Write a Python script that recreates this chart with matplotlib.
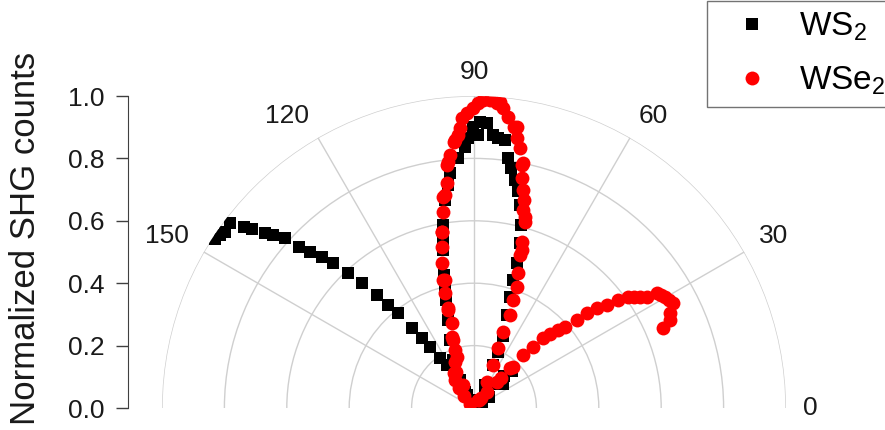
import numpy as np
import matplotlib
matplotlib.use("Agg")
import matplotlib.pyplot as plt
from matplotlib.lines import Line2D

plt.rcParams['font.family'] = ['Liberation Sans', 'DejaVu Sans']
plt.rcParams['mathtext.default'] = 'regular'

# polarization angle (deg) and normalized SHG intensity
ws2_theta = [10, 20, 30, 36, 40, 44, 47, 50, 55, 60,
             64.4, 66.2, 66.8, 68.3, 70.5, 72, 73, 73.5, 74.4, 75.6,
             77.2, 78.5, 79.8, 81.2, 82.3, 83.4, 85, 86, 87.4, 88.8,
             89.2, 90.3, 91.3, 92, 93.7, 95.8, 96.6, 97.9, 99.6, 100.4,
             101.1, 102.7, 103.6, 104.5, 106.5, 109.4, 113.6, 116.6, 118, 119.5,
             121, 122.4, 124.4, 125.7, 126.9, 128, 128.6, 129.8, 130.7, 132,
             133, 134.2, 135.2, 136.4, 137.4, 138.1, 139.2, 140.1, 141.1, 141.8,
             142.9, 144.7, 145.7, 146.8]
ws2_counts = [0.01, 0.02, 0.03, 0.06, 0.12, 0.17, 0.14, 0.10, 0.06, 0.03,
              0.08, 0.15, 0.195, 0.25, 0.316, 0.374, 0.43, 0.485, 0.55, 0.605,
              0.667, 0.71, 0.743, 0.778, 0.81, 0.865, 0.87, 0.877, 0.914, 0.917,
              0.875, 0.90, 0.866, 0.837, 0.803, 0.757, 0.72, 0.673, 0.595, 0.555,
              0.516, 0.437, 0.40, 0.358, 0.294, 0.231, 0.168, 0.10, 0.047, 0.06,
              0.11, 0.163, 0.193, 0.242, 0.279, 0.324, 0.389, 0.43, 0.478, 0.538,
              0.59, 0.647, 0.688, 0.726, 0.764, 0.814, 0.849, 0.873, 0.916, 0.94,
              0.981, 0.978, 0.985, 0.992]

wse2_theta = [22.8, 24.2, 25.8, 27.7, 29, 30.2, 31.2, 32.1, 32.8, 33.8,
              34.8, 35.8, 36.8, 37.8, 39.1, 40, 40.6, 41.8, 42.8, 44,
              45.2, 45.9, 47.1, 46.4, 47.8, 48.5, 49.2, 52.1, 57, 61,
              63, 64.2, 65.8, 67.9, 69, 68.8, 70, 70.6, 71.8, 73.2,
              73.3, 74, 74.7, 75.1, 76, 76.5, 77.3, 78.3, 78.6, 78.9,
              80, 81, 81.4, 82, 83.3, 84.4, 85.1, 85.7, 87, 88.3,
              89.2, 90.1, 91.4, 92.4, 92.8, 93.3, 94.1, 94.4, 95.4, 96,
              96.4, 96.9, 97.8, 98.3, 98.9, 100.3, 100.4, 101.3, 102.6, 102.8,
              103.5, 104.2, 104.5, 104.7, 104.8, 106.9, 107.4, 108.1, 108.6, 112,
              115, 116, 120, 124, 128, 132, 136]
wse2_counts = [0.658, 0.689, 0.698, 0.722, 0.715, 0.709, 0.70, 0.691, 0.658, 0.64,
               0.625, 0.61, 0.578, 0.538, 0.507, 0.472, 0.434, 0.391, 0.368, 0.34,
               0.315, 0.273, 0.232, 0.183, 0.172, 0.13, 0.111, 0.066, 0.04, 0.03,
               0.029, 0.094, 0.151, 0.207, 0.262, 0.32, 0.368, 0.412, 0.454, 0.529,
               0.512, 0.554, 0.619, 0.635, 0.654, 0.685, 0.716, 0.752, 0.80, 0.794,
               0.845, 0.875, 0.912, 0.91, 0.94, 0.965, 0.985, 0.979, 0.988, 0.988,
               0.977, 0.961, 0.945, 0.929, 0.90, 0.876, 0.861, 0.856, 0.815, 0.794,
               0.784, 0.725, 0.689, 0.684, 0.637, 0.572, 0.574, 0.527, 0.475, 0.421,
               0.422, 0.379, 0.33, 0.325, 0.281, 0.228, 0.239, 0.196, 0.173, 0.16,
               0.081, 0.13, 0.13, 0.11, 0.08, 0.05, 0.02]

angle_ticks = [0, 30, 60, 90, 120, 150]
r_ticks = [0.0, 0.2, 0.4, 0.6, 0.8, 1.0]

W, H = 885, 430
fig = plt.figure(figsize=(W / 100, H / 100), dpi=100)

# half polar plot, centre at (474, 408) px, radius 312 px;
# the square box is centred on the middle of the half disc
R = 312
cx, cy = 474, H - 408
ax = fig.add_axes([(cx - R) / W, (cy + R / 2 - R) / H, 2 * R / W, 2 * R / H],
                  projection='polar')
ax.set_thetamin(0)
ax.set_thetamax(180)
ax.set_rlim(0, 1)
ax.set_rticks(r_ticks[1:])
ax.set_yticklabels([])
ax.set_xticks(np.deg2rad(angle_ticks))
ax.set_xticklabels([])
ax.grid(True, color='#cfcfcf', lw=1)
ax.xaxis.get_major_ticks()[0].gridline.set_visible(False)
for sp in ax.spines.values():
    sp.set_color('none')
    sp.set_linewidth(0)
ax.tick_params(axis='x', direction='in', length=8, color='#c8c8c8')
ax.tick_params(axis='y', length=0)

# angle labels just outside the outer circle, anchored by their near edge
for a in angle_ticks:
    c, s = np.cos(np.deg2rad(a)), np.sin(np.deg2rad(a))
    ha = 'left' if c > 0.2 else ('right' if c < -0.2 else 'center')
    va = 'baseline' if s > 0.2 else 'center'
    ax.text(np.deg2rad(a), 1.055, str(a), ha=ha, va=va, fontsize=19,
            color='#1a1a1a', clip_on=False)

ax.plot(np.deg2rad(ws2_theta), ws2_counts, 's', color='black', ms=9,
        mew=0, zorder=3)
ax.plot(np.deg2rad(wse2_theta), wse2_counts, 'o', color='red', ms=10,
        mew=0, zorder=4)

# separate vertical scale on the left
ax2 = fig.add_axes([128 / W, cy / H, 1 / W, R / H])
ax2.set_ylim(0, 1)
ax2.set_yticks(r_ticks)
ax2.set_yticklabels(['%.1f' % v for v in r_ticks])
ax2.set_xticks([])
for s in ['top', 'right', 'bottom']:
    ax2.spines[s].set_visible(False)
ax2.spines['left'].set_color('#404040')
ax2.tick_params(axis='y', length=9, width=1, color='#404040',
                labelsize=19, labelcolor='#1a1a1a', pad=8)
ax2.patch.set_visible(False)
fig.text(26 / W, 1 - 238 / H, 'Normalized SHG counts', rotation=90,
         ha='center', va='center', fontsize=25, color='#1a1a1a')

handles = [Line2D([], [], ls='none', marker='s', color='black', ms=9, mew=0),
           Line2D([], [], ls='none', marker='o', color='red', ms=10, mew=0)]
leg = fig.legend(handles, ['WS$_2$', 'WSe$_2$'], loc='upper left',
                 bbox_to_anchor=(707 / W, 1 - 1 / H), fontsize=24,
                 frameon=True, fancybox=False, borderaxespad=0,
                 borderpad=0.3, handlelength=2.1, handletextpad=0.35,
                 labelspacing=0.65)
leg.get_frame().set_edgecolor('#505050')
leg.get_frame().set_linewidth(1)

fig.savefig('out.png', dpi=100)
